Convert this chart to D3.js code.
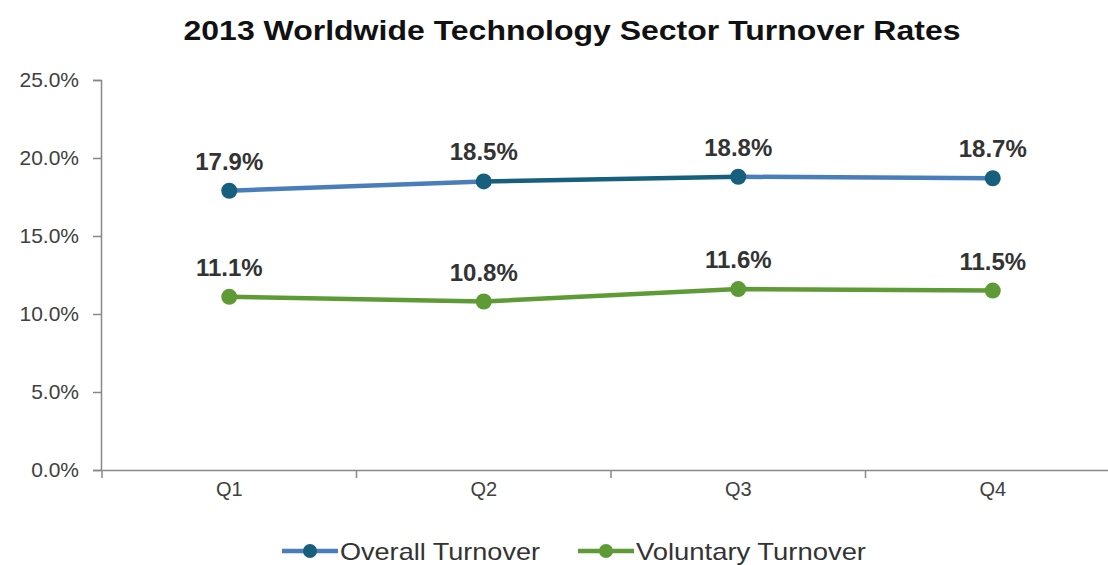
<!DOCTYPE html>
<html><head><meta charset="utf-8">
<script src="https://cdn.jsdelivr.net/npm/d3@7"></script>
<style>body{margin:0;background:#fff}svg{display:block}text{font-family:"Liberation Sans",Arial,sans-serif}</style>
</head><body><svg id="c" width="1108" height="565"></svg>
<script>
const categories = ["Q1","Q2","Q3","Q4"];
const overall = [17.9, 18.5, 18.8, 18.7];
const voluntary = [11.1, 10.8, 11.6, 11.5];
const yTicks = [0, 5, 10, 15, 20, 25];
const overallSegColors = ["#4a7ebb", "#17607d", "#4a7ebb"];

const svg = d3.select("#c");
const x = d3.scaleBand().domain(categories).range([102, 1120]);
const y = d3.scaleLinear().domain([0, 25]).range([470, 80]);
const cx = d => x(d) + x.bandwidth()/2;

svg.append("text").attr("x", 572).attr("y", 40).attr("text-anchor","middle")
  .attr("font-size", 27).attr("font-weight","bold").attr("fill","#111")
  .attr("textLength", 777).attr("lengthAdjust","spacingAndGlyphs")
  .text("2013 Worldwide Technology Sector Turnover Rates");

// y axis
const ya = svg.append("g").attr("transform","translate(101,0)")
  .call(d3.axisLeft(y).tickValues(yTicks).tickSize(8).tickPadding(14).tickFormat(d => d.toFixed(1) + "%"));
ya.attr("font-size", null);
ya.select(".domain").attr("stroke","#888").attr("stroke-width",1.5);
ya.selectAll(".tick line").attr("stroke","#888").attr("stroke-width",1.5);
ya.selectAll(".tick text").style("font-size","21px").attr("fill","#404040").style("font-family","Liberation Sans, Arial, sans-serif");

// x axis
const xa = svg.append("g").attr("transform","translate(0,470)")
  .call(d3.axisBottom(x).tickSize(0).tickPadding(12));
xa.select(".domain").attr("stroke","#888").attr("stroke-width",1.5);
xa.selectAll(".tick text").style("font-size","20px").attr("fill","#404040").style("font-family","Liberation Sans, Arial, sans-serif");
xa.selectAll(".bt").data(categories).enter().append("line")
  .attr("x1", d => x(d)).attr("x2", d => x(d)).attr("y1", 0).attr("y2", 8)
  .attr("stroke","#888").attr("stroke-width",1.5);

// overall line segments
for (let i = 0; i < overall.length - 1; i++) {
  svg.append("line")
    .attr("x1", cx(categories[i])).attr("y1", y(overall[i]))
    .attr("x2", cx(categories[i+1])).attr("y2", y(overall[i+1]))
    .attr("stroke", overallSegColors[i]).attr("stroke-width", 4.5);
}
svg.append("path").datum(voluntary)
  .attr("d", d3.line().x((d,i) => cx(categories[i])).y(d => y(d)))
  .attr("fill","none").attr("stroke","#5e9b36").attr("stroke-width",4.5);

svg.selectAll(".mo").data(overall).enter().append("circle")
  .attr("cx",(d,i)=>cx(categories[i])).attr("cy",d=>y(d)).attr("r",8).attr("fill","#17607d");
svg.selectAll(".mv").data(voluntary).enter().append("circle")
  .attr("cx",(d,i)=>cx(categories[i])).attr("cy",d=>y(d)).attr("r",8).attr("fill","#5e9b36");

const lab = (arr) => svg.selectAll(null).data(arr).enter().append("text")
  .attr("x",(d,i)=>cx(categories[i])).attr("y",d=>y(d)-21)
  .attr("text-anchor","middle").attr("font-size",24).attr("font-weight","bold").attr("fill","#333")
  .text(d => d.toFixed(1) + "%");
lab(overall); lab(voluntary);

// legend
const legend = [["Overall Turnover","#4a7ebb","#17607d",282,200],["Voluntary Turnover","#5e9b36","#5e9b36",578,230]];
legend.forEach(([name, lc, mc, lx, tl]) => {
  svg.append("line").attr("x1",lx).attr("x2",lx+56).attr("y1",551).attr("y2",551).attr("stroke",lc).attr("stroke-width",4.5);
  svg.append("circle").attr("cx",lx+28).attr("cy",551).attr("r",7).attr("fill",mc);
  svg.append("text").attr("x",lx+58).attr("y",560).attr("font-size",24).attr("fill","#333")
    .attr("textLength", tl).attr("lengthAdjust","spacingAndGlyphs").text(name);
});
</script></body></html>
